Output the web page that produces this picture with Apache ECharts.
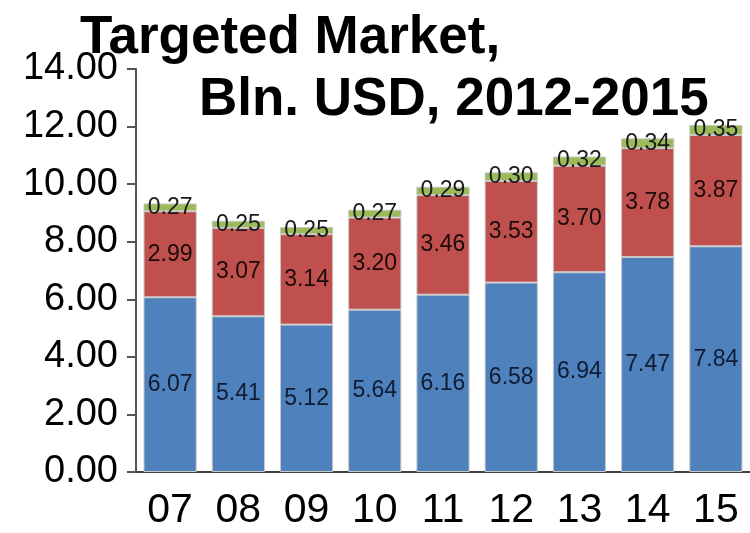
<!DOCTYPE html>
<html>
<head>
<meta charset="utf-8">
<script src="https://cdn.jsdelivr.net/npm/echarts@6/dist/echarts.min.js"></script>
<style>
html,body{margin:0;padding:0;background:#fff;}
#chart{width:750px;height:533px;}
</style>
</head>
<body>
<div id="chart"></div>
<script>
const categories = ['07','08','09','10','11','12','13','14','15'];
const seriesBlue  = [6.07, 5.41, 5.12, 5.64, 6.16, 6.58, 6.94, 7.47, 7.84];
const seriesRed   = [2.99, 3.07, 3.14, 3.20, 3.46, 3.53, 3.70, 3.78, 3.87];
const seriesGreen = [0.27, 0.25, 0.25, 0.27, 0.29, 0.30, 0.32, 0.34, 0.35];
const titleLine1 = 'Targeted Market,';
const titleLine2 = 'Bln. USD, 2012-2015';

const FONT = '"Liberation Sans", Arial, sans-serif';
const chart = echarts.init(document.getElementById('chart'));

function mkSeries(name, data, color, labelColor) {
  return {
    name: name,
    type: 'bar',
    stack: 'total',
    data: data,
    barCategoryGap: '22%',
    itemStyle: { color: color, borderColor: '#c8c8c8', borderWidth: 1 },
    label: {
      show: true,
      position: 'inside',
      formatter: p => p.value.toFixed(2),
      fontFamily: FONT,
      fontSize: 23,
      color: labelColor
    },
    emphasis: { disabled: true }
  };
}

chart.setOption({
  animation: false,
  backgroundColor: '#fff',
  title: [
    { text: titleLine1, left: 75, top: 7,
      textStyle: { fontFamily: FONT, fontWeight: 'bold', fontSize: 53, color: '#000' } },
    { text: titleLine2, left: 194, top: 69,
      textStyle: { fontFamily: FONT, fontWeight: 'bold', fontSize: 53, color: '#000' } }
  ],
  grid: { left: 136, top: 69, width: 616, height: 403, containLabel: false },
  xAxis: {
    type: 'category',
    data: categories,
    axisLine: { show: true, lineStyle: { color: '#404040', width: 2 } },
    axisTick: { show: false },
    axisLabel: { fontFamily: FONT, fontSize: 41, color: '#000', margin: 18 }
  },
  yAxis: {
    type: 'value',
    min: 0, max: 14, interval: 2,
    axisLine: { show: true, lineStyle: { color: '#555', width: 2 } },
    axisTick: { show: true, length: 9, lineStyle: { color: '#555', width: 2 } },
    splitLine: { show: false },
    axisLabel: { fontFamily: FONT, fontSize: 38, color: '#000', margin: 18,
      formatter: v => v.toFixed(2) }
  },
  series: [
    mkSeries('A', seriesBlue, '#4f81bd', '#0f1c33'),
    mkSeries('B', seriesRed, '#c0504d', '#1a0a0a'),
    mkSeries('C', seriesGreen, '#9bbb59', '#1a1a1a')
  ]
});
</script>
</body>
</html>
